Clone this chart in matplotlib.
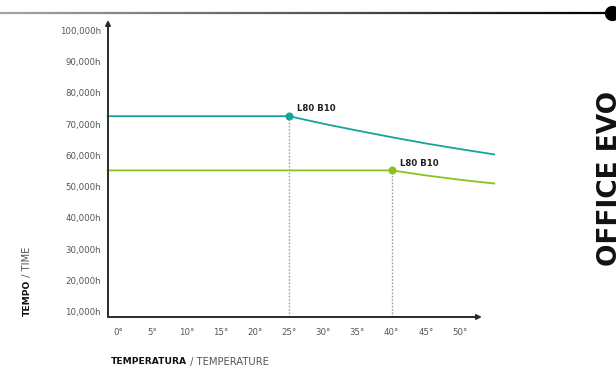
import numpy as np
import matplotlib
matplotlib.use("Agg")
import matplotlib.pyplot as plt
from matplotlib.collections import LineCollection

# chart data
temps_teal = [-1.5, 25, 30, 35, 40, 45, 50, 55]
hours_teal = [72500, 72500, 70100, 67900, 65800, 63800, 62000, 60300]
temps_green = [-1.5, 40, 45, 50, 55]
hours_green = [55200, 55200, 53600, 52200, 51000]
knee_teal = (25, 72500)
knee_green = (40, 55200)
knee_label = "L80 B10"
x_ticks = [0, 5, 10, 15, 20, 25, 30, 35, 40, 45, 50]
y_ticks = [10000, 20000, 30000, 40000, 50000, 60000, 70000, 80000, 90000, 100000]

TEAL = "#17a39b"
GREEN = "#8cc21f"
AXIS = "#2b2b2b"
GREY = "#555555"

plt.rcParams["font.family"] = ["DejaVu Sans"]

W, H = 616, 376
fig = plt.figure(figsize=(W / 100, H / 100), dpi=100)

# overlay in pixel coords for decoration
deco = fig.add_axes([0, 0, 1, 1])
deco.set_xlim(0, W)
deco.set_ylim(H, 0)
deco.axis("off")

xs = np.linspace(0, 612, 120)
segs = [[(xs[i], 13), (xs[i + 1], 13)] for i in range(len(xs) - 1)]
cols = plt.cm.Greys(np.linspace(0.45, 1.0, len(segs)))
deco.add_collection(LineCollection(segs, colors=cols, linewidths=1.6))
deco.plot([612], [13], "o", color="black", markersize=10, clip_on=False)

# title sits partly past the right edge, as in the original
deco.text(610, 178, "OFFICE EVO", rotation=90, fontsize=19, fontweight="bold",
          ha="center", va="center", color="#111111")

# main chart
ax = fig.add_axes([108 / W, 59 / H, 386 / W, 297 / H])
ax.set_xlim(-1.46, 54.97)
ax.set_ylim(8400, 103200)
for s in ax.spines.values():
    s.set_visible(False)

ax.plot(temps_teal, hours_teal, color=TEAL, lw=1.3, clip_on=False)
ax.plot(temps_green, hours_green, color=GREEN, lw=1.3, clip_on=False)

for (kx, ky), c in [(knee_teal, TEAL), (knee_green, GREEN)]:
    ax.plot([kx, kx], [8400, ky], color="#a0a0a0", lw=1.0, ls=(0, (1.2, 1.2)))
    ax.plot([kx], [ky], "o", color=c, markersize=4.8)
    ax.annotate(knee_label, (kx, ky), xytext=(6, 2), textcoords="offset points",
                fontsize=6.2, fontweight="bold", color="#222222", va="bottom")

# axis arrows
ax.annotate("", xy=(53.2, 8400), xytext=(-1.46, 8400),
            arrowprops=dict(arrowstyle="-|>", color=AXIS, lw=1.4,
                            mutation_scale=7, shrinkA=0, shrinkB=0),
            annotation_clip=False)
ax.annotate("", xy=(-1.46, 103200), xytext=(-1.46, 8400),
            arrowprops=dict(arrowstyle="-|>", color=AXIS, lw=1.4,
                            mutation_scale=7, shrinkA=0, shrinkB=0),
            annotation_clip=False)

ax.set_xticks(x_ticks)
ax.set_xticklabels([f"{t}°" for t in x_ticks])
ax.set_yticks(y_ticks)
ax.set_yticklabels([f"{v:,}h" for v in y_ticks])
ax.tick_params(axis="x", length=0, pad=8, labelsize=6.2, labelcolor=GREY)
ax.tick_params(axis="y", length=0, pad=5, labelsize=6.2, labelcolor=GREY)

# two-part axis titles
fig.canvas.draw()
r = fig.canvas.get_renderer()

t1 = fig.text(111 / W, 1 - 362 / H, "TEMPERATURA", fontsize=6.6, fontweight="bold",
              color="#111111", ha="left", va="center")
bb = t1.get_window_extent(r)
fig.text(bb.x1 / W, 1 - 362 / H, " / TEMPERATURE", fontsize=7.2, color=GREY,
         ha="left", va="center")

t2 = fig.text(27 / W, 1 - 316 / H, "TEMPO", fontsize=6.6, fontweight="bold",
              color="#111111", rotation=90, ha="center", va="bottom")
bb = t2.get_window_extent(r)
fig.text(27 / W, bb.y1 / H, " / TIME", fontsize=7.2, color=GREY, rotation=90,
         ha="center", va="bottom")

fig.savefig("out.png", dpi=100)
